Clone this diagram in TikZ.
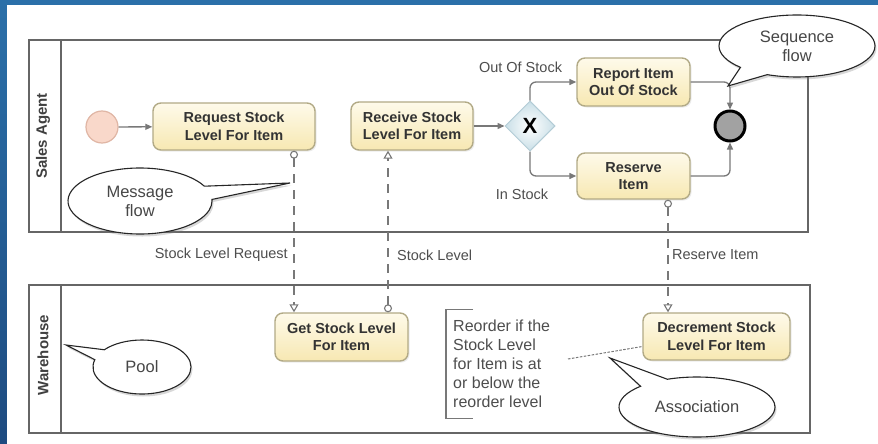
\documentclass[tikz,border=0pt]{standalone}
\usepackage{fontspec}
\setmainfont{Liberation Sans}
\usetikzlibrary{arrows.meta,shapes.geometric,shapes.callouts,shadows,calc}

\definecolor{frameblue}{HTML}{2B70A9}
\definecolor{frameblue2}{HTML}{1E4B80}
\definecolor{poolgray}{HTML}{666666}
\definecolor{tasktop}{HTML}{FEFAEA}
\definecolor{taskfill}{HTML}{F7E8B2}
\definecolor{taskline}{HTML}{B2AA86}
\definecolor{flowgray}{HTML}{787878}
\definecolor{labelgray}{HTML}{4E4E4E}
\definecolor{startfill}{HTML}{F9D8CA}
\definecolor{startline}{HTML}{E0B6A5}
\definecolor{gwfill}{HTML}{C9DFE7}
\definecolor{gwline}{HTML}{B3CCD6}
\definecolor{endfill}{HTML}{A2A2A2}

\tikzset{
  pool/.style={draw=poolgray, line width=1.8pt, minimum width=#1, inner sep=0pt},
  poollabel/.style={rotate=90, font=\fontsize{15}{18}\selectfont\bfseries, text=black!75},
  task/.style={rectangle, rounded corners=8pt, draw=taskline, line width=1.4pt,
    top color=tasktop, bottom color=taskfill, align=center, inner sep=1pt,
    font=\fontsize{14.5}{17.5}\selectfont\bfseries, text=black!80,
    drop shadow={opacity=0.15, shadow xshift=1.5pt, shadow yshift=-1.5pt}},
  startev/.style={circle, draw=startline, line width=1.2pt, fill=startfill, minimum size=32pt, inner sep=0pt},
  endev/.style={circle, draw=black, line width=3pt, fill=endfill, minimum size=30pt, inner sep=0pt},
  gateway/.style={diamond, draw=gwline, line width=1pt, inner color=white, outer color=gwfill,
    minimum width=50pt, minimum height=50pt, inner sep=0pt,
    font=\fontsize{22}{22}\selectfont\bfseries},
  seqflow/.style={draw=flowgray, line width=1.3pt, rounded corners=6pt,
    -{Triangle[length=7pt,width=6pt]}},
  msgflow/.style={draw=flowgray, line width=1.1pt, dash pattern=on 9pt off 7pt,
    {Circle[open,length=8pt,width=8pt,line width=1.1pt,fill=white]}-{Triangle[open,length=8pt,width=9pt,line width=1.1pt,fill=white]}},
  assoc/.style={draw=flowgray, line width=1pt, dash pattern=on 2.5pt off 1.5pt},
  flowlabel/.style={font=\fontsize{14.5}{17}\selectfont, text=labelgray, inner sep=0pt},
  callout/.style={ellipse callout, draw=black!85, line width=1.1pt, fill=white, align=center,
    callout pointer arc=24, font=\fontsize{16.5}{19}\selectfont, text=black!72, inner sep=0pt,
    drop shadow={opacity=0.3, shadow xshift=1.5pt, shadow yshift=-2.5pt}}
}

\begin{document}
\begin{tikzpicture}[x=1pt,y=-1pt]
  % frame and page
  \useasboundingbox (0,0) rectangle (878,444);
  \fill[top color=frameblue, bottom color=frameblue2] (0,0) rectangle (878,444);
  \fill[white] (7,5) rectangle (878,444);

  % pools
  \node[pool=779pt, minimum height=192pt] (sales) at (418.5,136) {};
  \draw[poolgray, line width=1.8pt] ($(sales.north west)+(33,0)$) -- ($(sales.south west)+(33,0)$);
  \node[poollabel] (saleslbl) at ($(sales.west)+(15,0)$) {Sales Agent};

  \node[pool=781pt, minimum height=148pt] (wh) at (419.5,359) {};
  \draw[poolgray, line width=1.8pt] ($(wh.north west)+(33,0)$) -- ($(wh.south west)+(33,0)$);
  \node[poollabel] (whlbl) at ($(wh.west)+(15,-4)$) {Warehouse};

  % sales agent lane
  \node[startev] (start) at (102,127) {};
  \node[task, minimum width=162pt, minimum height=47pt] (req) at (234,126.5) {Request Stock\\Level For Item};
  \node[task, minimum width=122pt, minimum height=48pt] (recv) at (412,126) {Receive Stock\\Level For Item};
  \node[gateway] (gw) at (530,126) {X};
  \node[task, minimum width=113pt, minimum height=48pt] (report) at (633.5,82) {Report Item\\Out Of Stock};
  \node[task, minimum width=113pt, minimum height=46pt] (reserve) at (633.5,176) {Reserve\\Item};
  \node[endev] (end) at (730,126) {};

  % warehouse lane
  \node[task, minimum width=133pt, minimum height=48pt] (get) at (341.5,337) {Get Stock Level\\For Item};
  \node[task, minimum width=147pt, minimum height=47pt] (dec) at (716.5,336.5) {Decrement Stock\\Level For Item};

  % text annotation
  \node[anchor=west, align=left, inner xsep=7pt, inner ysep=10pt,
        font=\fontsize{16}{19}\selectfont, text=labelgray] (note) at (446,364)
        {Reorder if the\\Stock Level\\for Item is at\\or below the\\reorder level};
  \draw[flowgray, line width=1.1pt] ($(note.north west)+(27,0)$) -- (note.north west)
        -- (note.south west) -- ($(note.south west)+(27,0)$);
  \coordinate (assocstart) at (568,359);
  \draw[assoc] (assocstart) -- ([yshift=-10pt]dec.west);

  % sequence flows
  \draw[seqflow] (start) -- (req);
  \draw[seqflow] (recv) -- (gw);
  \draw[seqflow] (gw.north) |- (report.west);
  \draw[seqflow] (gw.south) |- (reserve.west);
  \draw[seqflow] (report.east) -| (end.north);
  \draw[seqflow] (reserve.east) -| (end.south);
  \node[flowlabel] (lblout) at (520.5,67) {Out Of Stock};
  \node[flowlabel] (lblin) at (522,194) {In Stock};

  % message flows
  \coordinate (mx1) at (294,0);
  \coordinate (mx2) at (388,0);
  \coordinate (mx3) at (668,0);
  \draw[msgflow] (req.south -| mx1) -- (get.north -| mx1);
  \draw[msgflow] (get.north -| mx2) -- (recv.south -| mx2);
  \draw[msgflow] (reserve.south -| mx3) -- (dec.north -| mx3);
  \node[flowlabel, anchor=east] (lblreq) at (288,255) {Stock Level Request};
  \node[flowlabel, anchor=west] (lbllvl) at (397,255) {Stock Level};
  \node[flowlabel, anchor=west] (lblres) at (672,255) {Reserve Item};

  % callouts
  \node[callout, minimum width=156pt, minimum height=62pt,
        callout absolute pointer={(728,86)}] (cseq) at (797,46) {Sequence\\flow};
  \node[callout, minimum width=144pt, minimum height=66pt,
        callout absolute pointer={(290,183)}] (cmsg) at (140,201) {Message\\flow};
  \node[callout, minimum width=98pt, minimum height=54pt,
        callout absolute pointer={(66,345)}] (cpool) at (142,367) {Pool};
  \node[callout, minimum width=156pt, minimum height=60pt,
        callout absolute pointer={(610,358)}] (cassoc) at (697,407) {Association};
\end{tikzpicture}
\end{document}
